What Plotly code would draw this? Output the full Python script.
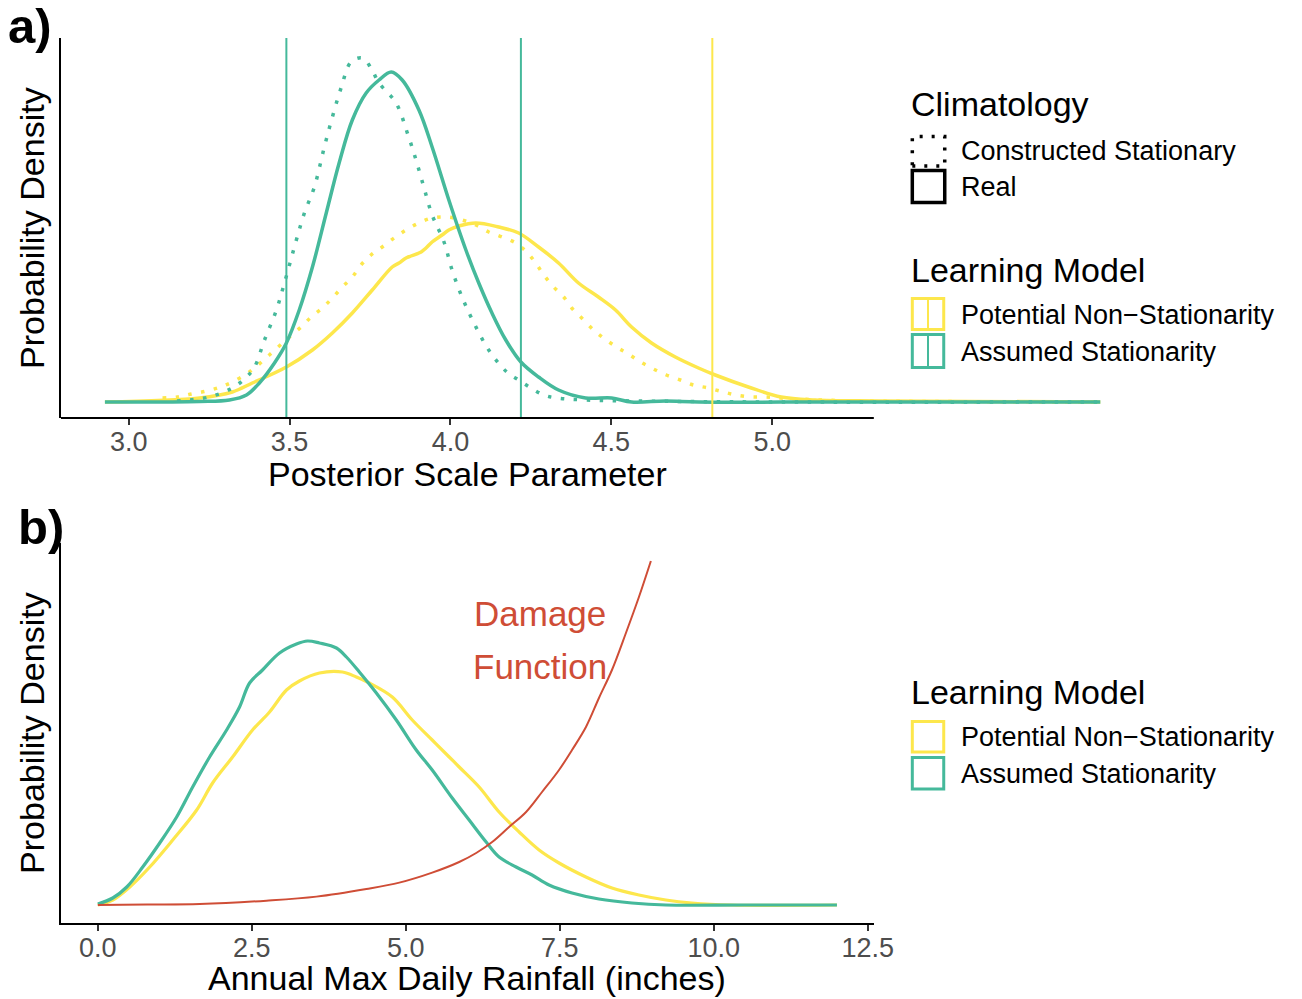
import plotly.graph_objects as go

# ---------------- data ----------------
# Panel a: posterior scale parameter densities
a_tick_vals = [3.0, 3.5, 4.0, 4.5, 5.0]
a_tick_text = ["3.0", "3.5", "4.0", "4.5", "5.0"]

a_assumed_real_x = [2.926, 3.220, 3.313, 3.366, 3.406, 3.453, 3.490, 3.530, 3.571, 3.614, 3.654, 3.695,
                    3.738, 3.778, 3.816, 3.850, 3.902, 3.943, 3.995, 4.048, 4.088, 4.129, 4.172, 4.219,
                    4.274, 4.336, 4.420, 4.501, 4.563, 4.668, 4.771, 5.200, 6.020]
a_assumed_real_y = [0.000, 0.004, 0.016, 0.056, 0.152, 0.312, 0.472, 0.736, 1.080, 1.512, 1.912, 2.256,
                    2.472, 2.576, 2.640, 2.576, 2.336, 2.040, 1.616, 1.216, 0.952, 0.712, 0.496, 0.320,
                    0.200, 0.096, 0.032, 0.032, 0.000, 0.008, 0.000, 0.000, 0.000]

a_assumed_constr_x = [3.150, 3.250, 3.322, 3.366, 3.391, 3.422, 3.459, 3.484, 3.521, 3.546, 3.577, 3.608,
                      3.633, 3.660, 3.691, 3.726, 3.753, 3.778, 3.831, 3.865, 3.893, 3.918, 3.943, 3.980,
                      4.005, 4.036, 4.073, 4.119, 4.175, 4.212, 4.250, 4.290, 4.330, 4.420, 4.584, 5.000, 6.020]
a_assumed_constr_y = [0.008, 0.040, 0.112, 0.200, 0.280, 0.496, 0.736, 0.952, 1.296, 1.512, 1.720, 2.040,
                      2.280, 2.512, 2.720, 2.752, 2.672, 2.552, 2.392, 2.160, 1.936, 1.712, 1.496, 1.280,
                      1.056, 0.840, 0.632, 0.416, 0.240, 0.176, 0.112, 0.056, 0.032, 0.016, 0.008, 0.000, 0.000]

a_potential_real_x = [2.926, 3.220, 3.322, 3.384, 3.490, 3.571, 3.633, 3.695, 3.757, 3.819, 3.840, 3.862,
                      3.909, 3.924, 3.943, 3.974, 3.995, 4.026, 4.079, 4.150, 4.212, 4.274, 4.336, 4.398,
                      4.460, 4.513, 4.563, 4.625, 4.699, 4.771, 4.823, 4.926, 5.028, 5.133, 5.329, 6.020]
a_potential_real_y = [0.000, 0.032, 0.080, 0.152, 0.280, 0.416, 0.552, 0.712, 0.896, 1.080, 1.112, 1.152,
                      1.200, 1.232, 1.280, 1.336, 1.376, 1.408, 1.432, 1.400, 1.352, 1.240, 1.112, 0.952,
                      0.840, 0.736, 0.600, 0.472, 0.360, 0.272, 0.216, 0.120, 0.040, 0.016, 0.008, 0.000]

a_potential_constr_x = [3.105, 3.152, 3.195, 3.242, 3.285, 3.322, 3.375, 3.437, 3.499, 3.536, 3.567, 3.602,
                        3.633, 3.664, 3.695, 3.722, 3.753, 3.788, 3.825, 3.862, 3.902, 3.943, 3.989, 4.036,
                        4.079, 4.119, 4.160, 4.203, 4.237, 4.265, 4.290, 4.321, 4.352, 4.377, 4.408, 4.445,
                        4.476, 4.516, 4.553, 4.591, 4.631, 4.671, 4.715, 4.755, 4.802, 4.848, 4.888, 4.935,
                        4.978, 5.025, 5.200, 5.500, 6.020]
a_potential_constr_y = [0.032, 0.040, 0.064, 0.088, 0.120, 0.160, 0.240, 0.376, 0.520, 0.600, 0.680, 0.752,
                        0.832, 0.920, 1.000, 1.096, 1.176, 1.240, 1.312, 1.376, 1.432, 1.472, 1.480, 1.456,
                        1.416, 1.360, 1.320, 1.272, 1.200, 1.112, 1.016, 0.920, 0.840, 0.752, 0.672, 0.576,
                        0.512, 0.440, 0.384, 0.320, 0.264, 0.216, 0.176, 0.136, 0.112, 0.080, 0.056, 0.040,
                        0.040, 0.032, 0.012, 0.004, 0.000]

# vertical reference lines (posterior scale values)
a_vline_assumed = [3.49, 4.219]
a_vline_potential = [4.814]

# Panel b: annual max daily rainfall densities and damage function
b_tick_vals = [0.0, 2.5, 5.0, 7.5, 10.0, 12.5]
b_tick_text = ["0.0", "2.5", "5.0", "7.5", "10.0", "12.5"]

b_assumed_x = [0.000, 0.243, 0.470, 0.729, 1.005, 1.280, 1.540, 1.815, 2.091, 2.301, 2.464, 2.674, 2.950,
               3.225, 3.404, 3.598, 3.874, 4.036, 4.246, 4.522, 4.846, 5.170, 5.429, 5.754, 6.029, 6.305,
               6.515, 6.791, 7.050, 7.326, 7.699, 8.136, 8.671, 9.222, 10.50, 12.00]
b_assumed_y = [0.0008, 0.0056, 0.0144, 0.0304, 0.0496, 0.0704, 0.0944, 0.1184, 0.1400, 0.1584, 0.1776,
               0.1880, 0.2016, 0.2088, 0.2112, 0.2096, 0.2056, 0.1984, 0.1864, 0.1696, 0.1480, 0.1240,
               0.1080, 0.0856, 0.0680, 0.0504, 0.0384, 0.0304, 0.0240, 0.0160, 0.0096, 0.0048, 0.0016,
               0.0000, 0.0000, 0.0000]

b_potential_x = [0.000, 0.243, 0.519, 0.843, 1.216, 1.605, 1.864, 2.188, 2.512, 2.788, 3.063, 3.274, 3.598,
                 3.971, 4.198, 4.408, 4.781, 5.105, 5.429, 5.705, 5.867, 6.191, 6.515, 6.840, 7.164, 7.488,
                 7.925, 8.347, 8.785, 9.222, 9.643, 10.292, 12.00]
b_potential_y = [0.0000, 0.0040, 0.0144, 0.0304, 0.0520, 0.0760, 0.0976, 0.1184, 0.1400, 0.1544, 0.1720,
                 0.1792, 0.1856, 0.1864, 0.1824, 0.1776, 0.1664, 0.1480, 0.1320, 0.1184, 0.1104, 0.0944,
                 0.0744, 0.0584, 0.0440, 0.0336, 0.0224, 0.0136, 0.0080, 0.0040, 0.0016, 0.0000, 0.0000]

b_damage_x = [0.000, 0.800, 1.653, 2.739, 3.549, 4.360, 4.895, 5.429, 5.867, 6.143, 6.402, 6.677, 6.953,
              7.212, 7.488, 7.699, 7.925, 8.136, 8.347, 8.574, 8.785, 8.979]
b_damage_y = [0.0000, 0.0004, 0.0008, 0.0035, 0.0067, 0.0128, 0.0179, 0.0259, 0.0344, 0.0416, 0.0504,
              0.0624, 0.0744, 0.0904, 0.1080, 0.1240, 0.1424, 0.1656, 0.1880, 0.2176, 0.2464, 0.2752]

# ---------------- styling ----------------
W, H = 1302, 999
SX = 0.987  # horizontal calibration of the rendered page
TEAL = "#45B99B"
YELLOW = "#FDE74C"
RED = "#CF4D36"
FONT = "Liberation Sans, Arial, Helvetica, sans-serif"
DOT = "3.5px,9.5px"


def px(x):
    return x / (W * SX)


def py(y):
    return 1 - y / H


fig = go.Figure()


def dens(x, y, color, dash, xa, ya, width):
    fig.add_trace(go.Scatter(x=x, y=y, mode="lines", xaxis=xa, yaxis=ya,
                             line=dict(color=color, width=width, dash=dash, shape="spline", smoothing=1.0),
                             showlegend=False, hoverinfo="skip"))


# panel a
dens(a_potential_constr_x, a_potential_constr_y, YELLOW, DOT, "x", "y", 3.5)
dens(a_potential_real_x, a_potential_real_y, YELLOW, "solid", "x", "y", 3.5)
dens(a_assumed_constr_x, a_assumed_constr_y, TEAL, DOT, "x", "y", 3.5)
dens(a_assumed_real_x, a_assumed_real_y, TEAL, "solid", "x", "y", 3.5)

# panel b
dens(b_potential_x, b_potential_y, YELLOW, "solid", "x2", "y2", 3.2)
dens(b_assumed_x, b_assumed_y, TEAL, "solid", "x2", "y2", 3.2)
dens(b_damage_x, b_damage_y, RED, "solid", "x2", "y2", 2.0)

shapes = []
for v in a_vline_assumed:
    shapes.append(dict(type="line", xref="x", yref="y domain", x0=v, x1=v, y0=0, y1=1,
                       line=dict(color=TEAL, width=2)))
for v in a_vline_potential:
    shapes.append(dict(type="line", xref="x", yref="y domain", x0=v, x1=v, y0=0, y1=1,
                       line=dict(color=YELLOW, width=2)))

# visible x axis line of panel a (curves are allowed to run past the panel)
A_XMIN, A_XMAX = 2.789, 5.316
shapes.append(dict(type="line", xref="x", yref="y domain", x0=A_XMIN, x1=A_XMAX, y0=0, y1=0,
                   line=dict(color="black", width=2)))


# legend keys
def box(x0, y0, x1, y1, color, width, dash="solid"):
    shapes.append(dict(type="rect", xref="paper", yref="paper", x0=px(x0), x1=px(x1), y0=py(y1), y1=py(y0),
                       line=dict(color=color, width=width, dash=dash), fillcolor="rgba(0,0,0,0)"))


def vkey(xc, y0, y1, color):
    shapes.append(dict(type="line", xref="paper", yref="paper", x0=px(xc), x1=px(xc), y0=py(y1), y1=py(y0),
                       line=dict(color=color, width=2)))


box(914.5, 136.5, 947, 166, "black", 3.5, "3px,9px")
box(914.5, 170.5, 947, 202.5, "black", 3.5)
box(914.5, 298.5, 946, 329.5, YELLOW, 3)
vkey(930.2, 298.5, 329.5, YELLOW)
box(914.5, 334.5, 946, 367.5, TEAL, 3)
vkey(930.2, 334.5, 367.5, TEAL)
box(914.5, 721.5, 946, 752, YELLOW, 3)
box(914.5, 757.5, 946, 789, TEAL, 3)

annotations = []


def txt(x, y, s, size, color="black", xanchor="left", bold=False, angle=0):
    annotations.append(dict(x=px(x), y=py(y), xref="paper", yref="paper", text=("<b>%s</b>" % s) if bold else s,
                            showarrow=False, xanchor=xanchor, yanchor="middle", textangle=angle,
                            font=dict(family=FONT, size=size, color=color)))


txt(6, 26, "a)", 49, bold=True)
txt(16, 527, "b)", 49, bold=True)
txt(32, 228, "Probability Density", 34, xanchor="center", angle=-90)
txt(32, 733, "Probability Density", 34, xanchor="center", angle=-90)
txt(468.5, 474, "Posterior Scale Parameter", 34, xanchor="center")
txt(468.5, 978, "Annual Max Daily Rainfall (inches)", 34, xanchor="center")

txt(911, 104, "Climatology", 34)
txt(961, 151, "Constructed Stationary", 27)
txt(961, 187, "Real", 27)
txt(911, 270, "Learning Model", 34)
txt(961, 315, "Potential Non\u2212Stationarity", 27)
txt(961, 352, "Assumed Stationarity", 27)
txt(911, 692, "Learning Model", 34)
txt(961, 737, "Potential Non\u2212Stationarity", 27)
txt(961, 774, "Assumed Stationarity", 27)

# damage function label (data coordinates)
annotations.append(dict(x=7.18, y=0.2336, xref="x2", yref="y2", text="Damage", showarrow=False,
                        xanchor="center", yanchor="middle", font=dict(family=FONT, size=35, color=RED)))
annotations.append(dict(x=7.18, y=0.1912, xref="x2", yref="y2", text="Function", showarrow=False,
                        xanchor="center", yanchor="middle", font=dict(family=FONT, size=35, color=RED)))

tickfont = dict(family=FONT, size=27, color="#4D4D4D")

fig.update_layout(
    width=W, height=H, margin=dict(l=0, r=0, t=0, b=0), autosize=False,
    paper_bgcolor="white", plot_bgcolor="white",
    xaxis=dict(domain=[px(61), min(1.0, px(1110))], range=[A_XMIN, 3.0 + (1110 - 129) / 322.5], anchor="y",
               tickvals=a_tick_vals, ticktext=a_tick_text, ticks="outside", ticklen=6, tickwidth=1.5,
               tickcolor="#333333", showline=False, showgrid=False, zeroline=False, tickfont=tickfont,
               ticklabelstandoff=-6),
    yaxis=dict(domain=[py(418), py(38)], range=[-0.128, 2.912], anchor="x", showline=True,
               linecolor="black", linewidth=2, showticklabels=False, ticks="", showgrid=False, zeroline=False),
    xaxis2=dict(domain=[px(61), px(876)], range=[-0.6, 12.6], anchor="y2",
                tickvals=b_tick_vals, ticktext=b_tick_text, ticks="outside", ticklen=6, tickwidth=1.5,
                tickcolor="#333333", showline=True, linecolor="black", linewidth=2, showgrid=False,
                zeroline=False, tickfont=tickfont, ticklabelstandoff=-6),
    yaxis2=dict(domain=[py(923), py(543)], range=[-0.0144, 0.2896], anchor="x2", showline=True,
                linecolor="black", linewidth=2, showticklabels=False, ticks="", showgrid=False, zeroline=False),
    shapes=shapes,
    annotations=annotations,
)

fig.write_html("out.html", config={"responsive": False, "displayModeBar": False},
               post_script="document.body.style.margin='0';document.body.style.overflow='hidden';"
                           "document.documentElement.style.overflow='hidden';")
